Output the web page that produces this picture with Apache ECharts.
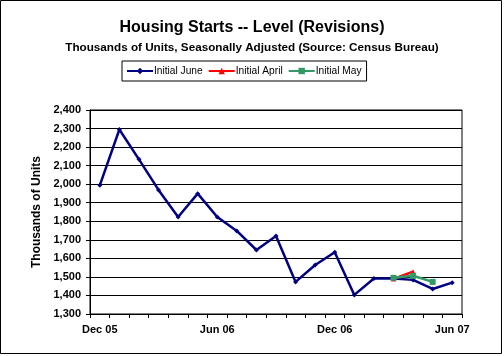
<!DOCTYPE html>
<html><head><meta charset="utf-8">
<script src="https://cdn.jsdelivr.net/npm/echarts@6/dist/echarts.min.js"></script>
<style>html,body{margin:0;padding:0;background:#fff}#c{width:504px;height:356px}</style>
</head><body><div id="c"></div>
<script>
var categories = ['Dec 05','Jan 06','Feb 06','Mar 06','Apr 06','May 06','Jun 06','Jul 06','Aug 06','Sep 06','Oct 06','Nov 06','Dec 06','Jan 07','Feb 07','Mar 07','Apr 07','May 07','Jun 07'];
var initialJune = [1994,2295,2134,1969,1823,1949,1823,1748,1645,1721,1473,1564,1633,1403,1491,1491,1484,1435,1469];
var initialApril = [null,null,null,null,null,null,null,null,null,null,null,null,null,null,null,1489,1528,null,null];
var initialMay = [null,null,null,null,null,null,null,null,null,null,null,null,null,null,null,1495,1506,1473,null];
var yTicks = {min:1300, max:2400, interval:100};

var F = 'Liberation Sans, Arial, sans-serif';
var chart = echarts.init(document.getElementById('c'));
chart.setOption({
  animation:false,
  backgroundColor:'#fff',
  title:[
    {text:'Housing Starts -- Level (Revisions)', left:'center', top:15, textStyle:{fontFamily:F, fontSize:16, fontWeight:'bold', color:'#000'}},
    {text:'Thousands of Units, Seasonally Adjusted (Source: Census Bureau)', left:'center', top:37, textStyle:{fontFamily:F, fontSize:11.7, fontWeight:'bold', color:'#000'}}
  ],
  legend:{
    top:61, left:122,
    borderColor:'#000', borderWidth:1, padding:[5,5,5,4], itemGap:5,
    itemWidth:26, itemHeight:8,
    textStyle:{fontFamily:F, fontSize:10.2, color:'#000', padding:[0,0,0,-4]},
    data:['Initial June','Initial April','Initial May']
  },
  graphic:[{type:'rect', shape:{x:0.5,y:0.5,width:501,height:353}, style:{fill:null, stroke:'#000', lineWidth:1}, z:-1}],
  grid:{left:90, right:42, top:110, bottom:42, show:true, borderColor:'#000', borderWidth:1},
  xAxis:{
    type:'category', data:categories, boundaryGap:true,
    axisLine:{lineStyle:{color:'#000', width:1}},
    axisTick:{show:true, interval:0, length:4, lineStyle:{color:'#000'}},
    axisLabel:{interval:5, color:'#000', fontFamily:F, fontSize:11, fontWeight:'bold', margin:10}
  },
  yAxis:{
    type:'value', min:yTicks.min, max:yTicks.max, interval:yTicks.interval,
    name:'Thousands of Units', nameLocation:'middle', nameGap:43,
    nameTextStyle:{fontFamily:F, fontSize:12, fontWeight:'bold', color:'#000'},
    axisLine:{show:true, lineStyle:{color:'#000', width:1}},
    axisTick:{show:true, length:4, lineStyle:{color:'#000'}},
    splitLine:{lineStyle:{color:'#000', width:1}},
    axisLabel:{color:'#000', fontFamily:F, fontSize:11, fontWeight:'bold', margin:9,
      formatter:function(v){return v.toLocaleString('en-US');}}
  },
  series:[
    {name:'Initial June', type:'line', data:initialJune, symbol:'diamond', symbolSize:5, showAllSymbol:true,
     lineStyle:{color:'#000080', width:2.5}, itemStyle:{color:'#000080'}, z:3},
    {name:'Initial April', type:'line', data:initialApril, symbol:'triangle', symbolSize:5, showAllSymbol:true,
     lineStyle:{color:'#ff0000', width:2.5}, itemStyle:{color:'#ff0000'}, z:4},
    {name:'Initial May', type:'line', data:initialMay, symbol:'rect', symbolSize:6, showAllSymbol:true,
     lineStyle:{color:'#339966', width:2.5}, itemStyle:{color:'#339966'}, z:5}
  ]
});
</script></body></html>
